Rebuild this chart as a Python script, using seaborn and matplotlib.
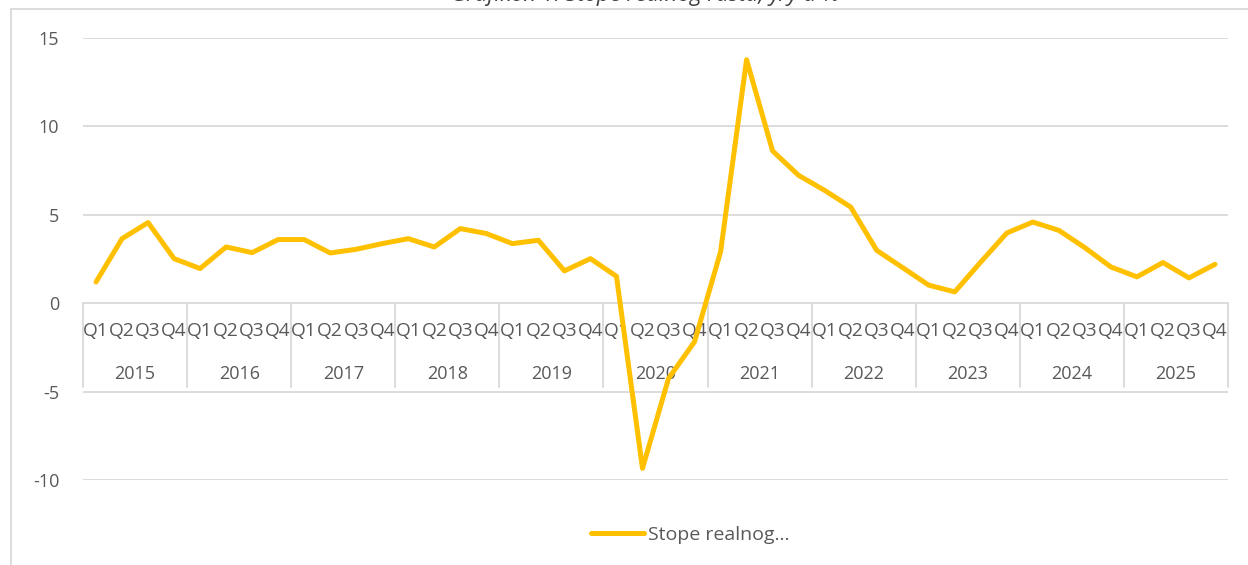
"""
Quarterly real growth rate line chart (Excel-style two-level category axis).
"""
import pandas as pd
import seaborn as sns
import matplotlib.pyplot as plt
from matplotlib.patches import Rectangle

# Data
years = [str(y) for y in range(2015, 2026)]
quarters = ["Q1", "Q2", "Q3", "Q4"]
values = [
    1.20, 3.65, 4.56, 2.52,   # 2015
    1.96, 3.18, 2.86, 3.60,   # 2016
    3.60, 2.84, 3.05, 3.37,   # 2017
    3.65, 3.18, 4.22, 3.94,   # 2018
    3.37, 3.56, 1.83, 2.52,   # 2019
    1.52, -9.34, -4.26, -2.18,  # 2020
    2.90, 13.77, 8.61, 7.23,  # 2021
    6.38, 5.44, 2.99, 2.01,   # 2022
    1.02, 0.64, 2.33, 3.97,   # 2023
    4.59, 4.12, 3.14, 2.05,   # 2024
    1.49, 2.30, 1.43, 2.20,   # 2025
]
series_label = "Stope realnog…"
title = "Grafikon 1. Stope realnog rasta, y/y u %"
yticks = [-10, -5, 0, 5, 10, 15]

LINE = "#FFC000"
GRID = "#D9D9D9"
TEXT = "#595959"

sns.set_theme(style="white")
plt.rcParams["font.family"] = ["Open Sans", "DejaVu Sans"]

df = pd.DataFrame({
    "year": [y for y in years for _ in quarters],
    "quarter": quarters * len(years),
    "value": values,
})
df["pos"] = range(len(df))

W, H = 1248, 565
fig = plt.figure(figsize=(W / 100, H / 100), dpi=100)
ax = fig.add_axes([83 / W, 1 - 480 / H, (1228 - 83) / W, (480 - 38) / H])

# outer chart frame (runs off the right/bottom edge like the reference)
fig.patches.append(Rectangle((11 / W, -0.05), 1.2, 1 - 9 / H + 0.05,
                             transform=fig.transFigure, fill=False,
                             edgecolor=GRID, linewidth=1.3, zorder=0))
fig.text(645 / W, 1 - 1.5 / H, title, ha="center", va="baseline",
         fontsize=16, style="italic", color="#404040")

ax.set_xlim(-0.5, len(df) - 0.5)
ax.set_ylim(-10, 15)
ax.set_yticks(yticks)
ax.set_yticklabels([str(t) for t in yticks])
ax.set_xticks([])
ax.tick_params(axis="y", length=0, pad=17, labelsize=13, labelcolor=TEXT)
ax.yaxis.grid(True, color=GRID, linewidth=1.3)
ax.set_axisbelow(True)
for s in ax.spines.values():
    s.set_visible(False)

# two-level category labels sitting on the zero line
for i, row in df.iterrows():
    ax.text(row["pos"], -1.6, row["quarter"], ha="center", va="center",
            fontsize=13.8, color=TEXT)
for k, y in enumerate(years):
    ax.text(k * 4 + 1.5, -4.0, y, ha="center", va="center",
            fontsize=13, color=TEXT)
for k in range(len(years) + 1):
    ax.plot([k * 4 - 0.5] * 2, [0, -4.75], color=GRID, linewidth=1.3,
            clip_on=False, zorder=1)

sns.lineplot(data=df, x="pos", y="value", ax=ax, color=LINE, linewidth=3.6,
             label=series_label, zorder=5,
             solid_joinstyle="round", solid_capstyle="round")
ax.set_xlabel("")
ax.set_ylabel("")

ax.get_legend().remove()
handles, labels = ax.get_legend_handles_labels()
fig.legend(handles, labels, loc="center left",
           bbox_to_anchor=(573 / W, 1 - 535 / H),
           frameon=False, fontsize=14, labelcolor=TEXT, handlelength=2.75,
           handletextpad=0.2)

fig.savefig("out.png", dpi=100)
plt.close(fig)
